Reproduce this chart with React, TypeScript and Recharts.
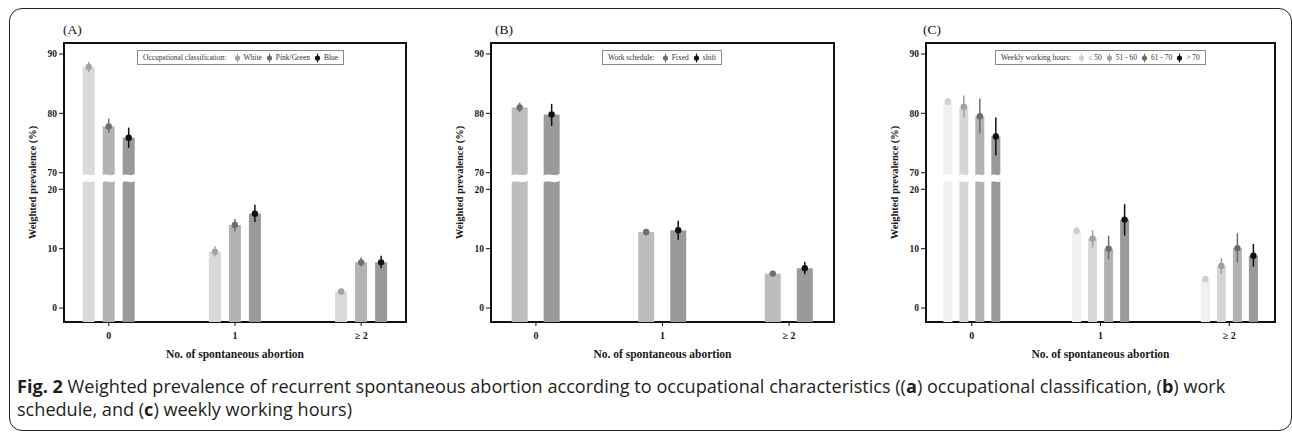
import React from 'react';
import { BarChart, Bar, XAxis, YAxis, ErrorBar, ReferenceArea, Legend } from 'recharts';

// shared axes
const categories = ['0', '1', '≥ 2'];
const categoryPos = [0, 1, 2];
const yTickValues = [0, 10, 20, 70, 80, 90];

// (A) occupational classification
const occNames = ['White', 'Pink/Green', 'Blue'];
const occWhite = [87.8, 9.5, 2.8];
const occWhiteLo = [86.9, 8.7, 2.4];
const occWhiteHi = [88.7, 10.4, 3.2];
const occPink = [77.8, 14.0, 7.7];
const occPinkLo = [76.7, 12.9, 7.0];
const occPinkHi = [79.1, 15.0, 8.5];
const occBlue = [75.9, 15.9, 7.7];
const occBlueLo = [74.2, 14.5, 6.7];
const occBlueHi = [77.6, 17.4, 8.8];

// (B) work schedule
const schedNames = ['Fixed', 'shift'];
const schedFixed = [81.0, 12.8, 5.8];
const schedFixedLo = [80.2, 12.2, 5.5];
const schedFixedHi = [81.8, 13.3, 6.1];
const schedShift = [79.8, 13.1, 6.7];
const schedShiftLo = [77.9, 11.5, 5.7];
const schedShiftHi = [81.6, 14.7, 7.8];

// (C) weekly working hours
const hourNames = ['≤ 50', '51 - 60', '61 - 70', '> 70'];
const hours50 = [82.0, 13.0, 4.9];
const hours50Lo = [81.4, 12.4, 4.6];
const hours50Hi = [82.5, 13.7, 5.2];
const hours60 = [81.1, 11.7, 7.1];
const hours60Lo = [79.3, 10.2, 5.8];
const hours60Hi = [83.0, 13.1, 8.4];
const hours70 = [79.5, 10.0, 10.1];
const hours70Lo = [76.6, 8.2, 7.7];
const hours70Hi = [82.5, 12.2, 12.6];
const hoursOver = [76.1, 14.9, 8.8];
const hoursOverLo = [72.9, 12.2, 7.0];
const hoursOverHi = [79.3, 17.5, 10.8];

// colours
const occBarColors = ['#d9d9d9', '#b3b3b3', '#999999'];
const occDotColors = ['#a3a3a3', '#6f6f6f', '#111111'];
const schedBarColors = ['#bdbdbd', '#9a9a9a'];
const schedDotColors = ['#6f6f6f', '#111111'];
const hourBarColors = ['#f0f0f0', '#d6d6d6', '#b2b2b2', '#999999'];
const hourDotColors = ['#cfcfcf', '#a0a0a0', '#6c6c6c', '#111111'];

// broken axis: 0-20 and 70-90 share one linear scale
const AXIS_BASE = 2.35;
const BREAK_GAP = 2.8;
const Y_MAX = 47;
const X_DOMAIN = [-0.355, 2.355];
const disp = (v: number) => AXIS_BASE + (v <= 45 ? v : v - 50 + BREAK_GAP);

type Series = { key: string; name: string; values: number[]; lo: number[]; hi: number[]; bar: string; dot: string };

const makeSeries = (prefix: string, names: string[], vals: number[][], los: number[][], his: number[][], bars: string[], dots: string[]): Series[] =>
  names.map((name, i) => ({ key: `${prefix}${i}`, name, values: vals[i], lo: los[i], hi: his[i], bar: bars[i], dot: dots[i] }));

const occSeries = makeSeries('occ', occNames, [occWhite, occPink, occBlue], [occWhiteLo, occPinkLo, occBlueLo], [occWhiteHi, occPinkHi, occBlueHi], occBarColors, occDotColors);
const schedSeries = makeSeries('sch', schedNames, [schedFixed, schedShift], [schedFixedLo, schedShiftLo], [schedFixedHi, schedShiftHi], schedBarColors, schedDotColors);
const hourSeries = makeSeries('hr', hourNames, [hours50, hours60, hours70, hoursOver], [hours50Lo, hours60Lo, hours70Lo, hoursOverLo], [hours50Hi, hours60Hi, hours70Hi, hoursOverHi], hourBarColors, hourDotColors);

const buildRows = (series: Series[]) =>
  categoryPos.map((pos, i) => {
    const row: any = { pos };
    series.forEach((s) => {
      row[s.key] = disp(s.values[i]);
      row[`${s.key}Err`] = [s.values[i] - s.lo[i], s.hi[i] - s.values[i]];
    });
    return row;
  });

const BreakBar = (props: any) => {
  const { x, y, width, height, fill, value, dotColor } = props;
  const v = Array.isArray(value) ? value[1] : value;
  const ppu = v > 0 ? height / v : 0;
  const bottom = y + height;
  let cut = null;
  if (v > disp(70)) {
    const yc = bottom - (AXIS_BASE + 20 + BREAK_GAP * 0.75) * ppu;
    const x0 = x - 1;
    const x1 = x + width + 1;
    const w = x1 - x0;
    const d = `M${x0},${yc - 1} C${x0 + w * 0.35},${yc - 5} ${x0 + w * 0.65},${yc + 1} ${x1},${yc - 3.5} L${x1},${yc + 3.5} C${x0 + w * 0.65},${yc + 8} ${x0 + w * 0.35},${yc + 2} ${x0},${yc + 6} Z`;
    cut = <path d={d} fill="#ffffff" />;
  }
  return (
    <g>
      <rect x={x} y={y} width={width} height={height} fill={fill} />
      {cut}
      <circle cx={x + width / 2} cy={y} r={3.2} fill={dotColor} />
    </g>
  );
};

const LegendBox = ({ title, series }: { title: string; series: Series[] }) => (
  <div style={{ display: 'flex', alignItems: 'center', height: 13, padding: '0 5px', border: '1px solid #8a8a8a', background: '#fff', fontFamily: 'Liberation Serif', fontSize: 7.5, color: '#333', whiteSpace: 'nowrap' }}>
    <span style={{ marginRight: 3, color: '#333' }}>{title}</span>
    {series.map((s) => (
      <span key={s.key} style={{ display: 'flex', alignItems: 'center', marginLeft: 4, color: '#333' }}>
        <svg width={7} height={10} style={{ marginRight: 3 }}>
          <line x1={3.5} y1={0.5} x2={3.5} y2={9.5} stroke={s.dot} strokeWidth={1} />
          <circle cx={3.5} cy={5} r={2.6} fill={s.dot} />
        </svg>
        {s.name}
      </span>
    ))}
  </div>
);

const tickFont = { fontFamily: 'Liberation Serif', fontWeight: 'bold' as const, fill: '#1a1a1a' };

type PanelProps = { left: number; plotWidth: number; series: Series[]; legendTitle: string; legendLeft: number; barSize: number; barGap: number };

const Panel = ({ left, plotWidth, series, legendTitle, legendLeft, barSize, barGap }: PanelProps) => {
  const rows = buildRows(series);
  return (
    <div style={{ position: 'absolute', left, top: 0 }}>
      <BarChart width={64 + plotWidth + 10} height={370} data={rows} margin={{ top: 43, right: 10, bottom: 0, left: 0 }} barSize={barSize} barGap={barGap}>
        <XAxis
          type="number"
          dataKey="pos"
          domain={X_DOMAIN}
          ticks={categoryPos}
          interval={0}
          tickFormatter={(v: number) => categories[v]}
          axisLine={false}
          tickLine={{ stroke: '#111' }}
          tickSize={4}
          tickMargin={6}
          height={48}
          tick={{ ...tickFont, fontSize: 10 }}
          label={{ value: 'No. of spontaneous abortion', position: 'insideBottom', offset: 12, style: { ...tickFont, fontSize: 11.5 } }}
        />
        <YAxis
          type="number"
          domain={[0, Y_MAX]}
          ticks={yTickValues.map(disp)}
          interval={0}
          tickFormatter={(_v: number, i: number) => String(yTickValues[i])}
          axisLine={false}
          tickLine={{ stroke: '#111' }}
          tickSize={5}
          tickMargin={2}
          width={64}
          tick={{ ...tickFont, fontSize: 9.5 }}
          label={{ value: 'Weighted prevalence (%)', angle: -90, position: 'center', style: { ...tickFont, fontSize: 10.5, textAnchor: 'middle' } }}
        />
        {series.map((s) => (
          <Bar key={s.key} dataKey={s.key} name={s.name} fill={s.bar} isAnimationActive={false} shape={(p: any) => <BreakBar {...p} dotColor={s.dot} />}>
            <ErrorBar dataKey={`${s.key}Err`} direction="y" width={0} stroke={s.dot} strokeWidth={1.5} isAnimationActive={false} />
          </Bar>
        ))}
        <ReferenceArea x1={X_DOMAIN[0]} x2={X_DOMAIN[1]} y1={0} y2={Y_MAX} fill="none" stroke="#111" strokeWidth={2} />
        <Legend
          layout="horizontal"
          align="center"
          verticalAlign="middle"
          wrapperStyle={{ top: 50, left: legendLeft, width: 'auto', height: 'auto' }}
          content={() => <LegendBox title={legendTitle} series={series} />}
        />
      </BarChart>
    </div>
  );
};

const panelLetter = (text: string, x: number) => (
  <div style={{ position: 'absolute', left: x, top: 22, fontFamily: 'Liberation Serif', fontSize: 13.5, color: '#111' }}>{text}</div>
);

export default function App() {
  return (
    <div style={{ position: 'absolute', left: 0, top: 0, width: 1292, height: 432, background: '#fff', overflow: 'hidden' }}>
      <div style={{ position: 'absolute', left: 9, top: 8, width: 1283, height: 423, boxSizing: 'border-box', border: '1.5px solid #222', borderRadius: 13 }} />
      {panelLetter('(A)', 63)}
      {panelLetter('(B)', 495)}
      {panelLetter('(C)', 923)}
      <Panel left={0} plotWidth={342} series={occSeries} legendTitle="Occupational classification:" legendLeft={137} barSize={12} barGap={8} />
      <Panel left={427} plotWidth={343} series={schedSeries} legendTitle="Work schedule:" legendLeft={175} barSize={16} barGap={16} />
      <Panel left={862} plotWidth={349} series={hourSeries} legendTitle="Weekly working hours:" legendLeft={133} barSize={9} barGap={7} />
      <div style={{ position: 'absolute', left: 17, top: 375, fontFamily: 'Open Sans', fontSize: 18.1, lineHeight: '23px', color: '#231f20', whiteSpace: 'nowrap' }}>
        <b>Fig. 2</b> Weighted prevalence of recurrent spontaneous abortion according to occupational characteristics ((<b>a</b>) occupational classification, (<b>b</b>) work
        <br />
        schedule, and (<b>c</b>) weekly working hours)
      </div>
    </div>
  );
}
